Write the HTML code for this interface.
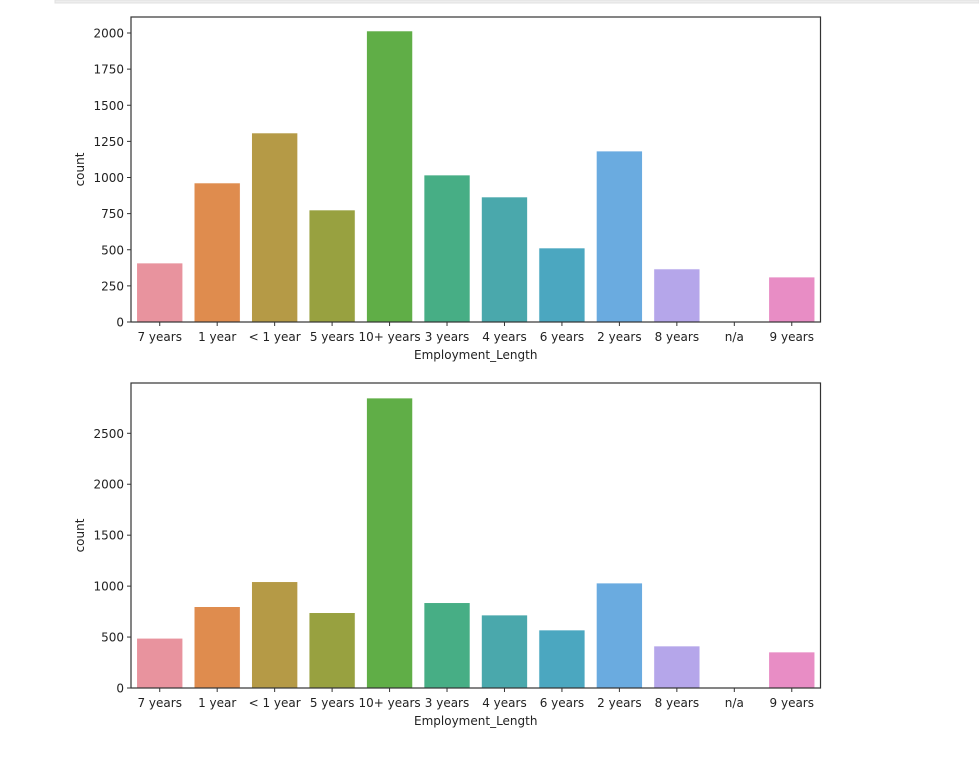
<!DOCTYPE html>
<html><head><meta charset="utf-8"><style>
body{margin:0;background:#fff;width:979px;height:763px;overflow:hidden;font-family:"DejaVu Sans","Liberation Sans",sans-serif}
</style></head><body>
<svg id="svg" width="979" height="763" xmlns="http://www.w3.org/2000/svg">
<rect x="55" y="0" width="924" height="3" fill="#eeeeee" stroke="#e0e0e0" stroke-width="1"/>
<g id="c1"></g>
<g id="c2"></g>
</svg>
<script>
const categories=["7 years","1 year","< 1 year","5 years","10+ years","3 years","4 years","6 years","2 years","8 years","n/a","9 years"];
const colors=["#e8939e","#df8c4e","#b59a46","#98a140","#60ae47","#47ae85","#4aa8ac","#4ba7c0","#6aabe0","#b5a6ea","#dc8ee0","#e88dc5"];
const topValues=[408,962,1308,775,2014,1017,865,512,1183,367,2,311];
const bottomValues=[488,798,1043,739,2846,837,716,569,1030,412,2,353];
const topTicks=[0,250,500,750,1000,1250,1500,1750,2000];
const bottomTicks=[0,500,1000,1500,2000,2500];
const NS="http://www.w3.org/2000/svg";
function mk(p,t,a,txt){const e=document.createElementNS(NS,t);for(const k in a)e.setAttribute(k,a[k]);if(txt!==undefined)e.textContent=txt;p.appendChild(e);return e;}
function draw(g,vals,ticks,top,bottom,yMax,prefix){
  const L=131,R=820.5;
  const y=v=>bottom-v/yMax*(bottom-top);
  const band=(R-L)/categories.length;
  const x=i=>L+band*i;
  vals.forEach((v,i)=>{
    const r=mk(g,'rect',{x:x(i)+band*0.1,y:y(v),width:band*0.8,height:bottom-y(v),fill:colors[i],stroke:'#fff','stroke-width':0.6});
    
    
  });
  mk(g,'rect',{x:L,y:top,width:R-L,height:bottom-top,fill:'none',stroke:'#333','stroke-width':1.2,});
  ticks.forEach(t=>{
    const ty=y(t);
    const l=mk(g,'line',{x1:L-4,x2:L,y1:ty,y2:ty,stroke:'#333'});
    
    
    const tx=mk(g,'text',{x:L-7,y:ty+4.5,'text-anchor':'end','font-size':12,fill:'#222'},String(t));
    
    
  });
  categories.forEach((c,i)=>{
    const cx=x(i)+band/2;
    const l=mk(g,'line',{x1:cx,x2:cx,y1:bottom,y2:bottom+4,stroke:'#333'});
    
    
    const tx=mk(g,'text',{x:cx,y:bottom+19,'text-anchor':'middle','font-size':12,fill:'#222'},c);
    
    
  });
  mk(g,'text',{x:(L+R)/2,y:bottom+37,'text-anchor':'middle','font-size':12,fill:'#222',},'Employment_Length');
  mk(g,'text',{x:0,y:0,transform:`translate(84,${(top+bottom)/2}) rotate(-90)`,'text-anchor':'middle','font-size':12,fill:'#222',},'count');
}
draw(document.getElementById('c1'),topValues,topTicks,17,322,2000*(322-17)/(322-33),'top');
draw(document.getElementById('c2'),bottomValues,bottomTicks,383,688,2500*(688-383)/(688-433.3),'bottom');
</script>
</body></html>
